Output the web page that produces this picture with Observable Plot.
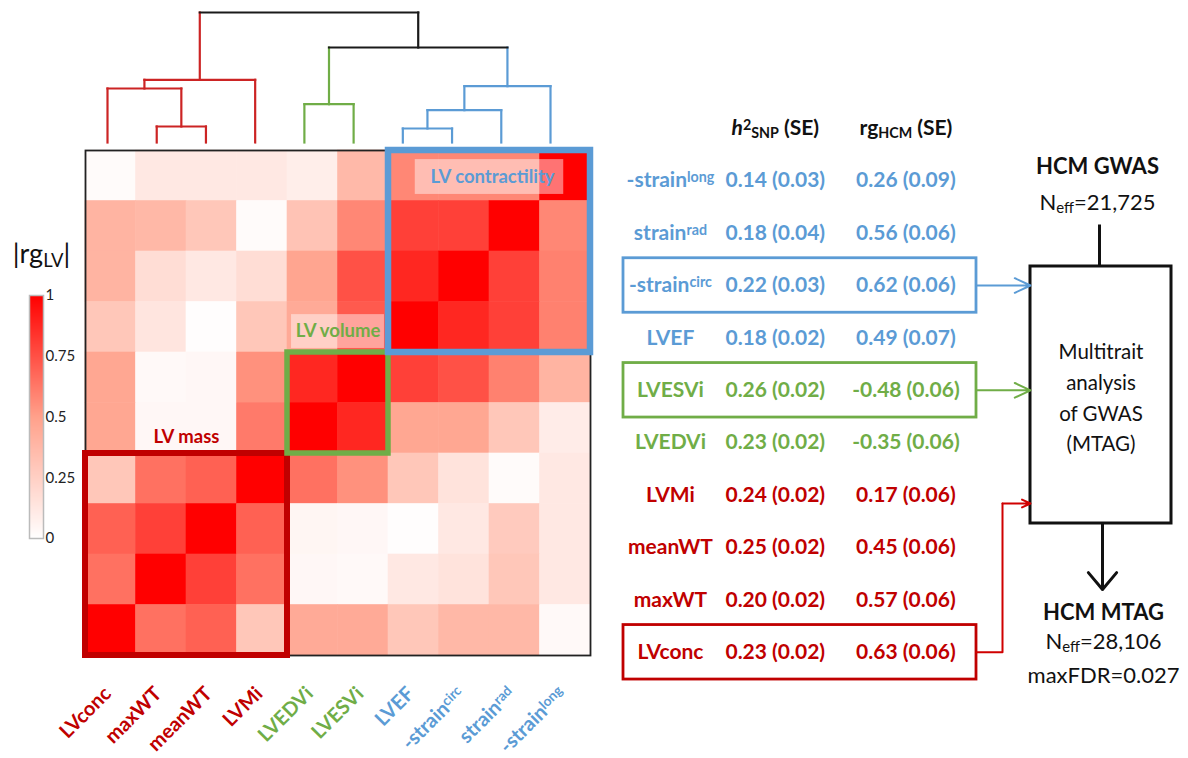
<!DOCTYPE html>
<html><head><meta charset="utf-8">
<script src="https://cdn.jsdelivr.net/npm/d3@7"></script>
<script src="https://cdn.jsdelivr.net/npm/@observablehq/plot@0.6"></script>
<style>
body{margin:0;background:#fff;}
#fig{position:relative;width:1188px;height:758px;overflow:hidden;background:#fff;}
</style></head><body><div id="fig"></div><script>
// ---------------- DATA ----------------
// heatmap columns / dendrogram leaves, left → right
const traits = ["LVconc","maxWT","meanWT","LVMi","LVEDVi","LVESVi","LVEF","-strain^{circ}","strain^{rad}","-strain^{long}"];
const traitGroup = ["mass","mass","mass","mass","volume","volume","contractility","contractility","contractility","contractility"];
const groupLabels = {mass:"LV mass", volume:"LV volume", contractility:"LV contractility"};
// heatmap rows, top → bottom
const rowTraits = traits.slice().reverse();
// |rg_LV| values: rows (rowTraits) × columns (traits)
const rgMatrix = [
  [0.02,0.12,0.12,0.12,0.09,0.37,0.58,0.58,0.58,1.00],
  [0.40,0.38,0.30,0.02,0.32,0.58,0.80,0.80,1.00,0.58],
  [0.40,0.18,0.12,0.18,0.48,0.75,0.88,1.00,0.80,0.60],
  [0.30,0.14,0.01,0.30,0.45,0.72,1.00,0.88,0.80,0.60],
  [0.47,0.03,0.04,0.55,0.88,1.00,0.80,0.75,0.60,0.40],
  [0.47,0.04,0.04,0.62,1.00,0.88,0.47,0.47,0.30,0.10],
  [0.30,0.65,0.70,1.00,0.65,0.55,0.30,0.15,0.02,0.12],
  [0.70,0.80,1.00,0.70,0.05,0.04,0.01,0.12,0.28,0.12],
  [0.65,1.00,0.80,0.65,0.04,0.03,0.12,0.15,0.30,0.12],
  [1.00,0.65,0.70,0.30,0.45,0.45,0.30,0.38,0.38,0.03]
];
// dendrogram merges (children: leaf index or merge id), merge heights
const mergeIds     = ["n1","n2","n3","n4","n5","n6","n7","n8","n9"];
const mergeLeft    = [1,0,"n2",4,6,"n5","n6","n4","n3"];
const mergeRight   = [2,"n1",3,5,7,8,9,"n7","n8"];
const mergeHeight  = [16,54,62.7,38.3,14,32.3,56.3,95,130];
// table
const tableTraits = ["-strain^{long}","strain^{rad}","-strain^{circ}","LVEF","LVESVi","LVEDVi","LVMi","meanWT","maxWT","LVconc"];
const tableGroups = ["contractility","contractility","contractility","contractility","volume","volume","mass","mass","mass","mass"];
const h2Values = ["0.14 (0.03)","0.18 (0.04)","0.22 (0.03)","0.18 (0.02)","0.26 (0.02)","0.23 (0.02)","0.24 (0.02)","0.25 (0.02)","0.20 (0.02)","0.23 (0.02)"];
const rgHCMValues = ["0.26 (0.09)","0.56 (0.06)","0.62 (0.06)","0.49 (0.07)","-0.48 (0.06)","-0.35 (0.06)","0.17 (0.06)","0.45 (0.06)","0.57 (0.06)","0.63 (0.06)"];
const tableHeaders = ["*{h}^{2}_{SNP} (SE)","rg_{HCM} (SE)"];
const selectedTraits = ["-strain^{circ}","LVESVi","LVconc"];
const colorTicks = [0,0.25,0.5,0.75,1];
const legendTitle = "|rg_{LV}|";
const gwasLines = ["HCM GWAS","N_{eff}=21,725"];
const mtagLines = ["HCM MTAG","N_{eff}=28,106","maxFDR=0.027"];
const boxText = "Multitrait\nanalysis\nof GWAS\n(MTAG)";

// ---------------- STYLE ----------------
const W = 1188, H = 758;
const C = {mass:"#c00000", volume:"#70ad47", contractility:"#5b9bd5"};
const DC = {mass:"#cc2424", volume:"#70ad47", contractility:"#5b9bd5", mixed:"#1a1a1a"};
const FONT = "Lato, 'Open Sans', sans-serif";
const baseStyle = `background:transparent;overflow:visible;font-family:${FONT};position:absolute;left:0;top:0;`;
const colorOpts = {type:"linear", domain:[0,0.5,1], range:["#ffffff","#ffa18b","#ff0000"], interpolate:"rgb"};

function richify(root){
  const NS = "http://www.w3.org/2000/svg";
  root.querySelectorAll("text, tspan").forEach(el => {
    if (el.children.length) return;
    const s = el.textContent;
    if (!/[\^_*]\{/.test(s)) return;
    el.textContent = "";
    const re = /([\^_*])\{([^}]*)\}/g;
    let last = 0, m;
    const add = (txt, kind) => {
      const t = document.createElementNS(NS, "tspan");
      t.textContent = txt;
      if (kind === "^") { t.setAttribute("baseline-shift","35%"); t.setAttribute("style","font-size:0.68em"); }
      else if (kind === "_") { t.setAttribute("baseline-shift","-22%"); t.setAttribute("style","font-size:0.68em"); }
      else if (kind === "*") t.setAttribute("font-style","italic");
      el.appendChild(t);
    };
    while ((m = re.exec(s))) { if (m.index > last) add(s.slice(last, m.index)); add(m[2], m[1]); last = re.lastIndex; }
    if (last < s.length) add(s.slice(last));
  });
}
const fig = document.getElementById("fig");
function put(p){ richify(p); fig.appendChild(p); return p; }

// ---------------- COLOR BAR ----------------
put(Plot.plot({
  width:W, height:H, marginLeft:29, marginRight:W-43, marginTop:295, marginBottom:H-538,
  style: baseStyle,
  x:{domain:[0,1], axis:null}, y:{domain:[0,1], axis:null},
  color: colorOpts,
  marks:[
    Plot.raster({fill:(x,y)=>y, x1:0, x2:1, y1:0, y2:1, pixelSize:1}),
    Plot.frame({stroke:"#bbb", strokeWidth:1.5}),
    Plot.axisY(colorTicks, {anchor:"right", tickSize:0, tickPadding:2, fontSize:15, tickFormat:d=>String(d), label:null, fill:"#222"}),
    Plot.text([legendTitle], {frameAnchor:"top", dy:-52, dx:5, fontSize:27, fill:"#111", text:d=>d})
  ]
}));

// ---------------- DENDROGRAM ----------------
const nodes = {};
traits.forEach((t,i)=>{ nodes[i] = {x:i, h:0, groups:new Set([traitGroup[i]])}; });
const segs = [];
mergeIds.forEach((id,k)=>{
  const a = nodes[mergeLeft[k]], b = nodes[mergeRight[k]], h = mergeHeight[k];
  const groups = new Set([...a.groups, ...b.groups]);
  const col = g => g.size === 1 ? DC[[...g][0]] : DC.mixed;
  segs.push({x1:a.x, y1:a.h, x2:a.x, y2:h, c:col(a.groups)});
  segs.push({x1:b.x, y1:b.h, x2:b.x, y2:h, c:col(b.groups)});
  segs.push({x1:a.x, y1:h, x2:b.x, y2:h, c:col(groups)});
  nodes[id] = {x:(a.x+b.x)/2, h, groups};
});
put(Plot.plot({
  width:W, height:H, marginLeft:107, marginRight:W-550, marginTop:12, marginBottom:H-142,
  style: baseStyle,
  x:{domain:[0,9], axis:null}, y:{domain:[0,130], axis:null},
  color:{type:"identity"},
  marks:[ Plot.link(segs, {x1:"x1", y1:"y1", x2:"x2", y2:"y2", stroke:"c", strokeWidth:2.2, strokeLinecap:"square"}) ]
}));

// ---------------- HEATMAP ----------------
const cells = rgMatrix.flatMap((row,r)=>row.map((v,c)=>({r,c,v})));
const groups = ["mass","volume","contractility"].map(key=>{
  const cs = traits.map((t,i)=>i).filter(i=>traitGroup[i]===key);
  const rs = rowTraits.map((t,i)=>i).filter(i=>traitGroup[traits.indexOf(rowTraits[i])]===key);
  return {key, label:groupLabels[key], c0:d3.min(cs), c1:d3.max(cs)+1, r0:d3.min(rs), r1:d3.max(rs)+1};
});
const boxW = {mass:6, volume:5.5, contractility:6.5};
const labelDy = {mass:-0.32, volume:-0.42, contractility:0.53};
const labelMarks = groups.flatMap(g=>{
  const mid = (g.c0+g.c1)/2, out = [];
  if (g.key==="contractility") out.push(Plot.rect([g], {x1:mid-1.47, x2:mid+1.47, y1:g.r0+0.18, y2:g.r0+0.87, fill:"white", fillOpacity:0.45}));
  if (g.key==="volume") out.push(Plot.rect([g], {x1:g.c0+0.08, x2:g.c1-0.08, y1:g.r0-0.75, y2:g.r0-0.08, fill:"white", fillOpacity:0.45}));
  out.push(Plot.text([g], {x:mid+(g.key==="contractility"?0.06:0), y:g.r0+labelDy[g.key], text:d=>d.label, fill:C[g.key], fontSize:18.5, fontWeight:"bold"}));
  return out;
});
const tickData = traits.map((t,i)=>({t,i,k:traitGroup[i]}));
put(Plot.plot({
  width:W, height:H, marginLeft:85, marginRight:W-590, marginTop:150, marginBottom:H-655,
  style: baseStyle,
  x:{domain:[0,10], axis:null}, y:{domain:[0,10], reverse:true, axis:null},
  color: colorOpts,
  marks:[
    Plot.rect(cells, {x1:"c", x2:d=>d.c+1, y1:"r", y2:d=>d.r+1, fill:"v", inset:-0.3}),
    Plot.frame({stroke:"#222", strokeWidth:1.8}),
    ...groups.map(g=>Plot.rect([g], {x1:"c0", x2:"c1", y1:"r0", y2:"r1", fill:"none", stroke:C[g.key], strokeWidth:boxW[g.key]})),
    ...labelMarks,
    ...["mass","volume","contractility"].map(k=>Plot.text(tickData.filter(d=>d.k===k), {
      x:d=>d.i+0.5, y:10, text:"t", rotate:-45, textAnchor:"end", dx:-3, dy:35,
      fill:C[k], fontSize:20, fontWeight:"bold"}))
  ]
}));

// ---------------- TABLE ----------------
const tableRows = tableTraits.map((name,i)=>({i, name, h2:h2Values[i], rg:rgHCMValues[i], color:C[tableGroups[i]]}));
const selectedRows = tableRows.filter(d=>selectedTraits.includes(d.name));
const colX = {label:0.133, h2:0.43, rg:0.80};
const headerData = [{x:colX.h2, t:tableHeaders[0]}, {x:colX.rg, t:tableHeaders[1]}];
const tText = {fontSize:21, fontWeight:"bold"};
const table = put(Plot.plot({
  width:W, height:H, marginLeft:623, marginRight:W-976, marginTop:154, marginBottom:H-678,
  style: baseStyle,
  x:{domain:[0,1], axis:null}, y:{domain:[-0.5,9.5], reverse:true, axis:null},
  color:{type:"identity"},
  marks:[
    Plot.text(headerData, {x:"x", y:-1, text:"t", fill:"#111", ...tText}),
    Plot.text(tableRows, {x:colX.label, y:"i", text:"name", fill:"color", ...tText}),
    Plot.text(tableRows, {x:colX.h2, y:"i", text:"h2", fill:"color", ...tText}),
    Plot.text(tableRows, {x:colX.rg, y:"i", text:"rg", fill:"color", ...tText}),
    Plot.rect(selectedRows, {x1:0, x2:1, y1:d=>d.i-0.52, y2:d=>d.i+0.52, fill:"none", stroke:"color", strokeWidth:2.8})
  ]
}));
const ty = table.scale("y"), tx = table.scale("x");
const rowY = name => ty.apply(tableTraits.indexOf(name));
const tRight = tx.apply(1);

// ---------------- FLOW DIAGRAM ----------------
const bx1 = 1030, bx2 = 1171, by1 = 266, by2 = 523, elbowX = 1002, redY = 503;
const arrowStyle = {strokeWidth:2, headLength:13, headAngle:50};
put(Plot.plot({
  width:W, height:H, margin:0,
  style: baseStyle,
  x:{domain:[0,W], axis:null}, y:{domain:[0,H], reverse:true, axis:null},
  color:{type:"identity"},
  marks:[
    Plot.link([0], {x1:1099, y1:224, x2:1099, y2:by1, stroke:"#111", strokeWidth:3}),
    Plot.rect([0], {x1:bx1, x2:bx2, y1:by1, y2:by2, fill:"white", stroke:"#111", strokeWidth:3}),
    Plot.text([boxText], {x:(bx1+bx2)/2, y:395, text:d=>d, fontSize:20.5, lineHeight:1.5, fill:"#111"}),
    Plot.arrow([0], {x1:1102, y1:by2, x2:1102, y2:589, stroke:"#111", strokeWidth:3, headLength:13, headAngle:80}),
    Plot.arrow([0], {x1:tRight, y1:rowY("-strain^{circ}"), x2:bx1, y2:rowY("-strain^{circ}"), stroke:C.contractility, ...arrowStyle}),
    Plot.arrow([0], {x1:tRight, y1:rowY("LVESVi"), x2:bx1, y2:rowY("LVESVi"), stroke:C.volume, ...arrowStyle}),
    Plot.line([[tRight, rowY("LVconc")],[elbowX, rowY("LVconc")],[elbowX, redY]], {stroke:"#d00000", strokeWidth:2}),
    Plot.arrow([0], {x1:elbowX, y1:redY, x2:bx1, y2:redY, stroke:"#d00000", ...arrowStyle}),
    Plot.text([gwasLines[0]], {x:1097, y:166, text:d=>d, fontSize:22, fontWeight:"bold", fill:"#111"}),
    Plot.text([gwasLines[1]], {x:1097, y:202, text:d=>d, fontSize:22, fill:"#111"}),
    Plot.text([mtagLines[0]], {x:1103, y:612, text:d=>d, fontSize:22, fontWeight:"bold", fill:"#111"}),
    Plot.text([mtagLines[1]], {x:1103, y:641, text:d=>d, fontSize:22, fill:"#111"}),
    Plot.text([mtagLines[2]], {x:1103, y:675, text:d=>d, fontSize:22, fill:"#111"})
  ]
}));
</script></body></html>
